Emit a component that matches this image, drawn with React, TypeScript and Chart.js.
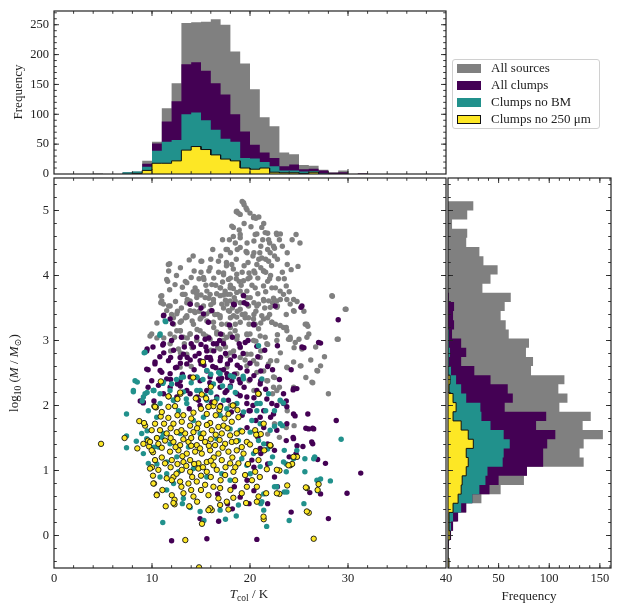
import { useEffect, useRef } from "react"
import { Chart, registerables } from "chart.js"

Chart.register(...registerables)

Chart.defaults.font.family = '"Liberation Serif", "DejaVu Serif", serif'
Chart.defaults.font.size = 12.5
Chart.defaults.color = "#222"

const GRAY = "#808080"
const PURPLE = "#440154"
const TEAL = "#21918c"
const YELLOW = "#fde725"

const legendLabels = ["All sources", "All clumps", "Clumps no BM", "Clumps no 250 μm"]

// T_col histogram (1 K bins)
const tcolEdges = [4, 5, 6, 7, 8, 9, 10, 11, 12, 13, 14, 15, 16, 17, 18, 19, 20, 21, 22, 23, 24, 25, 26, 27, 28, 29, 30, 31, 32]
const tcolAllSources = [1, 0, 0, 3, 4, 22, 54, 110, 152, 253, 254, 255, 259, 250, 205, 185, 142, 95, 80, 36, 33, 15, 14, 7, 3, 6, 0, 1]
const tcolAllClumps = [0, 0, 0, 2, 3, 17, 51, 88, 122, 184, 187, 173, 152, 133, 100, 71, 49, 36, 27, 13, 16, 8, 9, 6, 2, 3, 0, 1]
const tcolNoBM = [0, 0, 0, 3, 4, 12, 39, 54, 57, 100, 103, 90, 74, 59, 54, 27, 26, 20, 13, 6, 6, 4, 5, 1, 0, 0, 0, 0]
const tcolNo250 = [0, 0, 0, 0, 1, 6, 18, 18, 22, 40, 46, 41, 32, 25, 22, 10, 8, 10, 3, 2, 2, 1, 3, 0, 0, 0, 0, 0]

// log10 mass histogram (40 bins)
const massEdges = [
  -0.49, -0.349, -0.208, -0.068, 0.073, 0.214, 0.355, 0.496, 0.636, 0.777, 0.918, 1.059, 1.2, 1.34,
  1.481, 1.622, 1.763, 1.904, 2.044, 2.185, 2.326, 2.467, 2.608, 2.748, 2.889, 3.03, 3.171, 3.312,
  3.452, 3.593, 3.734, 3.875, 4.016, 4.156, 4.297, 4.438, 4.579, 4.72, 4.86, 5.001, 5.142,
]
const massAllSources = [0, 0, 1, 3, 5, 9, 18, 33, 52, 75, 78, 134, 130, 134, 153, 133, 141, 110, 118, 109, 115, 82, 84, 77, 80, 60, 57, 52, 56, 62, 34, 42, 49, 35, 31, 18, 19, 4, 19, 25]
const massAllClumps = [0, 0, 1, 3, 5, 10, 18, 24, 41, 50, 78, 94, 94, 98, 106, 87, 97, 56, 64, 59, 42, 26, 13, 18, 13, 4, 6, 5, 6, 1, 0, 0, 0, 0, 0, 0, 0, 0, 0, 0]
const massNoBM = [0, 0, 0, 1, 3, 5, 13, 24, 31, 37, 39, 54, 55, 61, 55, 42, 33, 32, 18, 13, 8, 3, 1, 2, 1, 1, 0, 0, 0, 0, 0, 0, 0, 0, 0, 0, 0, 0, 0, 0]
const massNo250 = [1, 0, 0, 2, 1, 1, 5, 10, 13, 14, 18, 20, 18, 25, 20, 13, 5, 8, 5, 1, 2, 0, 0, 0, 0, 0, 0, 0, 0, 0, 0, 0, 0, 0, 0, 0, 0, 0, 0, 0]

// scatter: [T_col, log10 M]
const allSources: [number, number][] = [
  [19.2, 5.14], [19.4, 5.09], [19.7, 5.01], [20.0, 4.96], [20.4, 4.91], [20.6, 4.88], [18.6, 4.98], [18.8, 4.96],
  [21.2, 4.74], [21.8, 4.65], [22.7, 4.65], [23.1, 4.64], [24.7, 4.63], [25.1, 4.5],
  [18.3, 4.74], [18.3, 4.6], [19.0, 4.58], [19.7, 4.5], [20.4, 4.53], [20.7, 4.64],
  [17.7, 4.4], [18.0, 4.35], [18.7, 4.4], [19.6, 4.37], [20.4, 4.35], [21.1, 4.45], [21.8, 4.4], [22.5, 4.42],
  [23.3, 4.45], [22.5, 4.3], [21.9, 4.22], [21.1, 4.12], [20.4, 4.07], [19.9, 4.04], [20.8, 3.96], [21.4, 4.07],
  [23.8, 4.17], [24.2, 4.09], [24.9, 4.14], [23.7, 3.84], [22.6, 3.81], [21.8, 3.91],
  [11.8, 4.18], [11.7, 4.07], [11.6, 3.91], [10.9, 3.68], [10.9, 3.58], [11.8, 3.78], [12.9, 4.12], [13.8, 4.24],
  [15.0, 4.22], [15.8, 4.07], [14.3, 4.07], [13.4, 3.91], [15.3, 3.94], [16.3, 3.96], [17.3, 4.01], [18.0, 3.96], [18.9, 3.91],
  [13.1, 3.71], [13.6, 3.63], [14.6, 3.76], [15.6, 3.76], [17.0, 3.81], [17.7, 3.71], [18.4, 3.66], [19.0, 3.76],
  [19.7, 3.66], [20.4, 3.58], [21.4, 3.61], [22.3, 3.58], [23.1, 3.63], [22.8, 3.53], [23.7, 3.4], [24.5, 3.45],
  [28.4, 3.68], [29.8, 3.48], [29.0, 3.02],
  [9.8, 3.07], [10.5, 3.27], [11.7, 3.53], [12.6, 3.45], [13.4, 3.35], [14.3, 3.45], [15.0, 3.35], [15.9, 3.45],
  [16.7, 3.4], [17.3, 3.5], [18.0, 3.35], [18.7, 3.45], [19.5, 3.35], [20.4, 3.4], [21.1, 3.27], [21.8, 3.35],
  [22.6, 3.25], [23.7, 3.2], [22.8, 3.09],
  [12.2, 3.25], [12.9, 3.15], [13.6, 3.04], [14.6, 3.17], [15.5, 3.07], [16.3, 3.2], [17.2, 3.09], [18.0, 3.2],
  [18.7, 3.07], [19.7, 3.09], [20.6, 2.99], [21.8, 2.94], [24.1, 3.02], [24.5, 2.89], [25.9, 3.22], [25.0, 3.02],
  [11.9, 2.84], [12.9, 2.81], [14.1, 2.89], [16.7, 2.89], [18.0, 2.81], [19.0, 2.89], [20.1, 2.79], [21.1, 2.84],
  [22.1, 2.69], [23.1, 2.81], [23.8, 2.58], [25.2, 2.61], [27.2, 2.61], [26.9, 2.53], [25.7, 2.43], [26.4, 2.35], [28.0, 2.18],
  [20.7, 2.64], [21.4, 2.53], [21.8, 2.38], [22.5, 2.43], [23.0, 2.28], [22.3, 2.18], [23.1, 2.07], [23.8, 1.92],
  [22.5, 1.72], [23.7, 1.66], [24.5, 1.69], [21.8, 1.56], [23.0, 1.51], [20.4, 2.23], [19.9, 2.38],
  [10.5, 3.04], [11.2, 3.04],
  [19.34, 5.12], [19.6, 5.04], [20.36, 4.89], [18.65, 4.99], [19.0, 4.94], [18.14, 4.76], [19.0, 4.63], [20.53, 4.63],
  [21.55, 4.66], [21.9, 4.55], [22.74, 4.63], [22.4, 4.45], [22.06, 4.35], [21.2, 4.27], [20.7, 4.17], [21.38, 4.07],
  [20.5, 4.04], [20.0, 3.97], [19.34, 3.92], [18.65, 4.02], [17.8, 3.94], [17.3, 4.04], [18.14, 4.17], [17.56, 4.4],
  [19.0, 4.43], [19.7, 4.35], [16.78, 4.22], [15.93, 4.12], [15.08, 4.22], [15.25, 3.97], [16.1, 3.86], [16.95, 3.81],
  [17.46, 3.76], [17.97, 3.81], [18.65, 3.74], [19.68, 3.76], [20.53, 3.81], [21.38, 3.84], [22.23, 3.81], [23.08, 3.76],
  [23.76, 3.63], [24.44, 3.46], [22.74, 3.51], [21.9, 3.61], [20.87, 3.56], [19.85, 3.53], [19.0, 3.58], [17.97, 3.61],
  [17.12, 3.56], [16.27, 3.63], [15.42, 3.66], [14.57, 3.71], [13.89, 3.61], [13.38, 3.71], [14.4, 3.81], [13.55, 3.89],
  [12.35, 3.86], [11.5, 3.94], [11.67, 4.17], [11.0, 3.61], [11.5, 3.46], [12.53, 3.41], [13.55, 3.36], [14.4, 3.43],
  [15.25, 3.38], [16.1, 3.46], [16.95, 3.38], [17.8, 3.46], [18.65, 3.36], [19.5, 3.41], [20.36, 3.33], [21.2, 3.38],
  [22.23, 3.28], [23.42, 3.2], [25.8, 3.25], [28.36, 3.69], [29.72, 3.48], [28.9, 3.02], [12.87, 3.15], [13.89, 3.1],
  [14.91, 3.15], [15.76, 3.05], [16.61, 3.13], [17.63, 3.05], [18.48, 3.15], [20.0, 3.1], [20.87, 3.18], [21.55, 3.05], [24.1, 3.05],
  [14.0, 2.6], [16.0, 2.3], [18.0, 2.0], [19.5, 2.7], [17.5, 2.9],
  [11.0, 3.69], [11.17, 3.56], [11.85, 3.53], [13.21, 3.71], [13.55, 3.58], [13.89, 3.46], [14.57, 3.66], [15.25, 3.53],
  [15.93, 3.71], [16.27, 3.58], [16.95, 3.69], [17.64, 3.56], [17.98, 3.71], [18.49, 3.61], [19.0, 3.48], [20.02, 3.66],
  [20.7, 3.53], [21.38, 3.63], [22.06, 3.51], [22.74, 3.61], [23.42, 3.71], [24.1, 3.56], [24.45, 3.63],
  [12.19, 3.35], [12.87, 3.28], [13.55, 3.38], [14.23, 3.25], [14.91, 3.33], [15.59, 3.41], [16.27, 3.28], [16.95, 3.35],
  [17.64, 3.25], [18.32, 3.38], [19.0, 3.28], [19.85, 3.35], [20.53, 3.25], [21.38, 3.33], [22.23, 3.28], [23.08, 3.23],
  [23.76, 3.15], [25.64, 3.25], [25.81, 3.05],
  [9.97, 3.1], [11.85, 3.1], [12.53, 3.15], [13.21, 3.05], [13.89, 3.1], [14.57, 3.0], [15.25, 3.1], [15.93, 3.02],
  [16.61, 3.1], [17.3, 3.0], [17.98, 3.1], [18.66, 3.02], [19.68, 3.1], [20.36, 3.0], [21.04, 3.07], [21.72, 2.95],
  [22.74, 3.0], [23.93, 3.02], [24.62, 2.97], [25.3, 2.87],
  [11.85, 2.95], [12.7, 2.87], [13.55, 2.79], [16.95, 2.87], [17.64, 2.77], [18.32, 2.84], [19.0, 2.74], [19.68, 2.79],
  [20.36, 2.69], [21.04, 2.74], [21.89, 2.64], [22.74, 2.69], [23.76, 2.59], [24.45, 2.67], [25.13, 2.61], [26.32, 2.36],
  [26.83, 2.54], [22.4, 2.44], [22.74, 2.23], [24.45, 2.28],
  [12.87, 2.59], [17.64, 2.59], [18.66, 2.49], [19.68, 2.61], [20.7, 2.51], [21.72, 2.38], [22.4, 2.28],
  [17.0, 4.3], [17.6, 4.2], [18.3, 4.1], [17.2, 3.9], [18.0, 3.85], [18.6, 3.95], [19.2, 4.05], [19.8, 4.2],
  [20.3, 4.3], [21.0, 4.35], [21.6, 4.25], [22.2, 4.15], [22.8, 4.25], [23.3, 4.05], [22.9, 3.95], [22.0, 3.95],
  [20.2, 3.85], [19.3, 3.7], [18.2, 3.5], [17.5, 3.62], [16.6, 3.72], [16.0, 3.55], [15.5, 3.85], [14.8, 3.95],
  [14.0, 3.97], [13.1, 3.82], [12.4, 3.6], [12.0, 3.4], [13.0, 3.5], [14.6, 3.55], [15.0, 4.05], [14.2, 4.3],
  [12.5, 4.0], [16.2, 4.4], [17.2, 4.55], [18.9, 4.7], [19.4, 4.8], [20.1, 4.75], [21.3, 4.55], [22.0, 4.5],
  [23.8, 4.35], [24.3, 4.55], [23.5, 3.95], [24.0, 3.75], [24.8, 3.6], [25.5, 3.45], [26.0, 3.1], [26.7, 2.9],
  [27.6, 2.75], [26.2, 2.7],
  [14.1, 3.3], [14.8, 3.45], [15.6, 3.3], [16.4, 3.4], [17.1, 3.25], [17.9, 3.45], [18.5, 3.25], [19.2, 3.4],
  [19.9, 3.25], [20.6, 3.45], [21.5, 3.5], [22.0, 3.4], [14.2, 3.75], [15.0, 3.7], [15.8, 3.65], [16.5, 3.85],
  [17.3, 3.7], [18.3, 3.8], [19.1, 3.85], [19.8, 3.95], [20.8, 3.72], [21.6, 3.75], [22.4, 3.65], [16.0, 4.25],
  [16.8, 4.05], [17.6, 4.15], [18.6, 4.25], [19.4, 4.15], [20.9, 4.25], [21.6, 4.05], [22.1, 4.0], [18.5, 4.5],
  [17.9, 4.55], [20.9, 4.9], [21.4, 4.8], [23.0, 4.55], [13.0, 3.3], [12.3, 3.05], [13.3, 2.95], [16.0, 2.85],
]

const allClumps: [number, number][] = [
  [11.2, 3.39], [12.1, 3.26], [13.9, 3.56], [15.0, 3.5], [18.4, 3.55], [19.4, 3.58], [20.4, 3.24], [17.9, 3.24],
  [20.7, 2.91], [25.2, 3.51], [29.0, 3.32], [27.2, 2.96], [25.5, 2.89], [22.8, 2.92], [21.8, 2.6], [24.2, 2.55],
  [24.4, 2.24], [23.7, 2.07], [24.6, 1.84], [25.9, 1.87], [25.7, 1.65], [26.4, 1.65], [28.8, 1.77], [24.4, 1.51],
  [23.7, 1.46], [24.8, 1.38], [25.4, 1.37], [26.4, 1.41], [24.0, 1.21], [24.7, 1.26], [27.7, 1.11], [26.9, 1.17],
  [31.3, 0.96], [29.9, 0.65], [27.2, 0.64], [26.1, 0.66], [28.0, 0.26], [24.2, 0.36], [21.8, 0.49], [19.9, 0.49],
  [18.2, 0.41], [16.8, 0.22], [14.9, 0.26], [20.7, -0.06], [15.6, -0.05], [12.0, -0.08],
  [9.5, 2.87], [9.6, 2.55], [10.3, 2.64], [10.2, 2.07], [9.1, 2.04], [11.1, 2.93], [11.2, 2.81], [11.0, 2.51],
  [11.9, 2.74], [11.5, 2.41], [12.4, 2.58], [13.1, 2.48], [12.6, 2.33], [13.6, 2.74], [14.4, 2.76], [15.0, 2.64],
  [15.6, 2.74], [16.3, 2.84], [17.0, 2.74], [16.5, 2.58], [17.7, 2.64], [18.4, 2.76], [19.0, 2.58], [19.7, 2.53],
  [20.4, 2.46], [21.1, 2.38], [21.1, 2.53], [18.4, 2.48], [17.7, 2.43], [16.8, 2.41], [15.6, 2.53], [15.0, 2.94], [15.8, 3.04],
  [19.4, 2.28], [20.4, 2.12], [21.4, 1.92], [22.1, 1.82], [19.9, 1.92], [20.6, 1.77], [21.4, 1.66], [19.7, 1.66],
  [20.8, 1.51], [21.8, 1.41], [22.5, 1.31], [21.1, 1.26], [20.4, 1.05], [21.8, 1.1], [19.7, 0.85], [20.4, 0.69],
  [19.0, 0.59], [17.7, 0.49], [16.7, 0.64], [22.8, 0.75], [22.5, 0.9], [18.4, 0.75], [8.8, 2.07], [9.6, 2.28],
  [9.12, 2.05], [13.89, 2.18], [14.74, 2.08], [16.95, 2.28], [17.46, 2.2], [17.8, 2.08], [19.0, 2.15], [19.68, 2.03],
  [20.02, 1.92], [21.04, 1.82], [22.74, 1.62], [23.76, 1.72], [24.44, 1.87], [25.98, 1.64], [26.5, 1.64], [23.42, 2.03],
  [22.4, 1.87], [24.78, 2.26], [23.42, 2.18], [26.3, 1.44], [24.44, 1.49], [20.19, 1.16], [21.04, 1.34],
  [14.0, 2.95], [16.9, 3.0], [18.9, 2.95], [13.3, 2.9], [12.0, 3.0], [17.3, 2.95], [16.0, 2.7], [18.9, 2.4],
  [11.17, 3.38], [11.85, 3.33], [13.89, 3.56], [15.25, 3.41], [15.76, 3.28], [16.1, 3.46], [18.32, 3.56], [19.34, 3.69],
  [19.68, 3.56], [20.36, 3.25], [22.57, 3.53], [25.3, 3.53], [25.3, 2.9], [27.0, 2.97], [24.45, 2.26], [23.76, 1.98],
  [22.23, 2.03], [21.04, 2.33], [19.51, 2.97], [19.0, 2.9], [14.57, 3.05], [15.42, 3.02], [16.27, 2.95], [14.23, 2.9],
  [13.21, 2.79], [11.17, 2.95], [9.46, 2.84], [10.31, 2.67], [9.46, 2.56], [9.97, 2.38], [10.83, 2.54], [11.85, 2.49],
  [12.53, 2.59], [13.55, 2.64], [14.91, 2.69], [15.93, 2.74], [16.95, 2.69], [17.64, 2.49], [18.15, 2.38], [16.95, 2.38],
  [15.93, 2.44], [14.91, 2.38], [13.89, 2.44], [12.87, 2.38], [11.85, 2.28], [11.17, 2.18], [12.53, 2.13], [13.55, 2.23],
  [14.57, 2.13], [15.59, 2.23], [16.61, 2.13], [17.64, 2.23], [18.66, 2.18], [19.68, 2.13], [20.7, 2.23], [21.72, 2.1],
  [22.74, 2.0], [12.87, 2.74], [15.59, 2.84], [16.95, 2.54], [11.68, 2.69], [10.66, 2.31],
  [14.3, 2.55], [15.3, 2.62], [16.2, 2.6], [17.3, 2.55], [18.0, 2.7], [18.7, 2.62], [19.3, 2.8], [20.0, 2.65],
  [20.8, 2.75], [17.5, 2.8], [16.6, 2.95], [15.5, 2.9], [14.8, 2.8], [13.9, 2.7], [12.9, 2.65], [12.2, 2.85],
  [13.0, 3.05], [17.0, 3.1], [18.2, 3.05], [19.8, 3.0], [15.9, 2.35], [17.1, 2.42], [18.0, 2.3], [19.0, 2.35],
  [20.0, 2.4], [20.3, 2.0], [19.2, 1.85], [18.1, 1.9], [17.0, 2.0], [16.1, 2.05], [14.9, 2.0], [13.8, 1.95],
  [12.9, 2.3], [11.9, 2.4], [10.8, 2.75], [10.1, 2.9], [21.6, 2.25], [22.3, 2.55], [21.5, 2.85], [23.0, 2.4],
]

const clumpsNoBM: [number, number][] = [
  [11.4, 3.29], [10.8, 3.08], [9.2, 2.81], [8.5, 2.36], [8.1, 2.21], [7.4, 1.87], [7.4, 1.53], [7.4, 1.35],
  [8.4, 1.45], [9.0, 2.07], [9.5, 2.2], [10.2, 2.23], [9.5, 1.61], [11.1, 2.34], [12.0, 2.33], [13.0, 2.43],
  [14.6, 2.43], [16.0, 2.48], [16.8, 2.51], [18.0, 2.46], [19.3, 2.45], [20.7, 1.92], [21.6, 1.92], [22.5, 1.92],
  [22.5, 1.68], [23.3, 1.69], [23.4, 2.04], [20.8, 1.56], [21.4, 1.41], [21.8, 1.33], [22.3, 1.21], [23.5, 1.31],
  [23.7, 1.1], [25.6, 1.18], [26.6, 1.21], [29.3, 1.48], [27.2, 0.87], [28.2, 0.84], [25.6, 0.98], [23.7, 0.98],
  [23.0, 1.0], [22.5, 0.75], [23.5, 0.67], [21.4, 0.64], [21.1, 0.49], [21.4, 0.39], [21.7, 0.14], [24.0, 0.23],
  [25.5, 0.49], [26.9, 0.69], [15.3, 0.23], [13.9, 0.43], [11.1, 0.2], [13.1, 0.49], [12.2, 0.8], [11.5, 0.95],
  [10.5, 1.1], [10.2, 1.36], [11.0, 1.51],
  [9.29, 2.18], [10.14, 2.23], [9.63, 1.92], [8.95, 1.57], [9.46, 1.49], [9.12, 1.26], [9.63, 1.11], [10.82, 2.18],
  [11.84, 2.23], [13.21, 2.21], [14.57, 2.23], [15.42, 2.15], [16.61, 2.1], [17.63, 1.95], [19.34, 1.9], [20.19, 1.77],
  [19.0, 1.62], [21.04, 1.72], [22.06, 1.62], [23.08, 1.72], [20.7, 2.03], [21.89, 2.18], [22.06, 1.11], [21.04, 1.06],
  [20.02, 0.95], [19.68, 1.08], [19.16, 1.18], [20.36, 1.26], [23.42, 1.13], [24.44, 1.18], [24.78, 1.31], [26.5, 1.18],
  [26.83, 0.85], [22.74, 0.75], [23.76, 0.67], [21.21, 0.52], [18.82, 0.47], [16.95, 0.39], [14.91, 0.37], [13.2, 0.57],
  [11.5, 0.7], [10.82, 0.9], [10.65, 1.36], [11.16, 1.57], [12.7, 1.92], [14.23, 1.77], [15.25, 1.82], [16.95, 1.85],
  [12.53, 1.21], [13.72, 1.36], [17.12, 0.95], [17.97, 0.85], [15.59, 0.9], [14.23, 1.03], [12.7, 0.98], [11.5, 1.13],
  [17.97, 1.64], [18.82, 1.46], [16.61, 1.49], [14.91, 1.57], [12.87, 1.57], [11.84, 1.41], [20.02, 1.59], [20.87, 1.46],
  [12.19, 2.08], [10.48, 1.82],
  [12.5, 2.4], [14.0, 2.35], [15.2, 2.4], [17.2, 2.3], [18.5, 2.2], [13.5, 2.1], [16.0, 2.2], [18.6, 0.3], [17.5, 0.25],
  [11.34, 3.3], [10.83, 3.1], [9.29, 2.82], [20.87, 2.92], [8.27, 2.38], [8.1, 2.23], [9.12, 2.13], [10.14, 2.23],
  [11.17, 2.36], [13.21, 2.44], [14.57, 2.44], [15.59, 2.54], [16.95, 2.49], [18.32, 2.44], [19.34, 2.41], [21.21, 2.41],
  [23.08, 2.08], [13.55, 2.03], [15.59, 2.08], [17.3, 2.08], [18.66, 2.03], [21.04, 2.03], [12.19, 2.08], [10.83, 2.03],
  [16.27, 2.33], [17.98, 2.28], [14.91, 2.23],
]

const clumpsNo250: [number, number][] = [
  [4.8, 1.41], [7.2, 1.5], [8.5, 1.34], [8.7, 1.76], [9.3, 1.69], [9.6, 1.46], [10.4, 1.97], [10.9, 2.37],
  [11.7, 2.14], [12.9, 2.18], [14.2, 2.43], [15.2, 2.67], [16.0, 2.29], [20.9, 2.18], [21.4, 1.72], [21.1, 1.56],
  [22.1, 1.38], [23.0, 1.0], [23.0, 0.64], [24.1, 1.08], [24.3, 1.1], [24.8, 1.21], [23.8, 0.77], [25.8, 0.73],
  [27.0, 0.79], [26.9, 0.7], [26.0, 0.35], [26.5, -0.05], [21.4, 0.25], [20.7, 0.52], [15.1, 0.18], [16.1, 0.39],
  [13.4, -0.07], [14.8, -0.49], [12.3, 0.48], [12.3, 0.55], [10.5, 0.63], [10.2, 0.8], [10.1, 0.92], [10.0, 1.05],
  [10.1, 1.28], [9.7, 1.37],
  [10.24, 1.99], [12.35, 1.99], [14.23, 1.89], [15.76, 1.98], [16.27, 1.99], [16.88, 1.93], [18.31, 2.0], [18.72, 1.93],
  [17.8, 1.87], [15.59, 1.87], [13.2, 1.85], [10.89, 1.83], [11.67, 1.81], [10.31, 1.72], [11.23, 1.72], [12.19, 1.72],
  [13.04, 1.75], [13.89, 1.69], [14.74, 1.72], [15.93, 1.73], [16.78, 1.67], [17.3, 1.69], [18.14, 1.75], [18.82, 1.82], [9.19, 1.73],
  [9.97, 1.62], [10.82, 1.62], [11.5, 1.57], [12.53, 1.59], [13.38, 1.57], [14.23, 1.59], [15.25, 1.57], [16.1, 1.62],
  [17.12, 1.57], [17.97, 1.54], [18.65, 1.57], [20.53, 1.62], [20.63, 1.55], [19.68, 1.44], [9.12, 1.41],
  [9.8, 1.44], [10.65, 1.41], [11.33, 1.46], [12.19, 1.44], [12.87, 1.39], [13.72, 1.44], [14.57, 1.39], [15.42, 1.44],
  [16.44, 1.39], [17.46, 1.41], [18.14, 1.44], [19.16, 1.36], [21.45, 1.31], [22.06, 1.39],
  [9.97, 1.31], [10.31, 1.16], [11.84, 1.29], [12.7, 1.31], [13.55, 1.26], [14.4, 1.29], [15.08, 1.26], [15.93, 1.31],
  [16.78, 1.26], [17.8, 1.29], [18.65, 1.31], [19.34, 1.26],
  [11.33, 1.11], [12.02, 1.16], [13.21, 1.13], [13.89, 1.16], [14.74, 1.11], [15.59, 1.13], [16.27, 1.08], [17.12, 1.16],
  [17.97, 1.11], [18.82, 1.11], [20.87, 1.16], [22.74, 1.01], [23.93, 1.08], [24.44, 1.21],
  [9.8, 1.03], [10.65, 1.01], [13.04, 1.01], [13.89, 0.98], [14.74, 1.03], [15.59, 0.98], [16.61, 1.01], [17.46, 0.93],
  [18.31, 0.98], [19.5, 0.93], [20.53, 0.98], [21.72, 1.02], [11.5, 0.88], [12.19, 0.9],
  [10.14, 0.8], [12.02, 0.85], [12.87, 0.83], [13.72, 0.8], [14.57, 0.83], [15.42, 0.78], [16.27, 0.75], [16.95, 0.73],
  [18.48, 0.85], [19.68, 0.75], [20.7, 0.75], [21.65, 0.65], [22.74, 0.65], [25.7, 0.74], [11.06, 0.7],
  [10.48, 0.62], [12.02, 0.62], [13.21, 0.65], [14.23, 0.6], [15.76, 0.62], [16.78, 0.57], [17.63, 0.52], [19.16, 0.65],
  [20.87, 0.6], [12.19, 0.5], [16.95, 0.47], [21.38, 0.29], [15.93, 0.42], [15.76, 0.39], [25.8, 0.37],
  [11.0, 1.9], [12.6, 1.85], [14.0, 1.8], [15.0, 1.95], [16.5, 1.85], [17.4, 1.8], [11.9, 1.65], [13.0, 1.62],
  [14.6, 1.65], [15.6, 1.7], [16.5, 1.55], [17.7, 1.65], [19.2, 1.6], [10.5, 1.5], [11.9, 1.5], [13.2, 1.48],
  [14.0, 1.5], [15.0, 1.5], [16.0, 1.48], [16.9, 1.47], [18.6, 1.45], [11.0, 1.35], [12.4, 1.36], [13.1, 1.22],
  [14.0, 1.38], [14.9, 1.34], [15.8, 1.38], [16.3, 1.2], [17.2, 1.35], [18.2, 1.2], [11.0, 1.2], [11.9, 1.05],
  [12.6, 1.1], [13.5, 1.07], [14.3, 1.1], [15.2, 1.05], [16.0, 1.15], [17.5, 1.05], [18.5, 1.05], [19.8, 1.1],
  [12.5, 0.95], [14.1, 0.9], [15.0, 0.92], [16.0, 0.9], [17.0, 0.85], [13.0, 0.75], [14.0, 0.7], [15.0, 0.7],
  [18.0, 0.7], [17.8, 0.4], [19.6, 0.5], [20.2, 0.85], [11.4, 0.45], [13.8, 0.45], [14.6, 0.52], [18.3, 0.58],
  [20.0, 1.4], [20.6, 1.3], [21.0, 0.9],
  [12.87, 2.2], [11.68, 2.14], [12.6, 2.1], [14.47, 2.11], [15.08, 2.17], [15.52, 2.11], [16.38, 2.05], [18.25, 2.0],
  [20.84, 2.18], [10.31, 1.98], [11.68, 1.98], [15.76, 1.98], [16.95, 1.98],
]

// tick values
const tcolTicks = [0, 10, 20, 30, 40]
const massTicks = [0, 1, 2, 3, 4, 5]
const freqTopTicks = [0, 50, 100, 150, 200, 250]
const freqRightTicks = [0, 50, 100, 150]
const freqRightLabels = [50, 100, 150]

const range = (a: number, b: number, step: number) => {
  const out: number[] = []
  for (let v = a; v <= b + 1e-9; v += step) out.push(Math.round(v * 1000) / 1000)
  return out
}

const TEXT = "#222"
const FONT = '"Liberation Serif", "DejaVu Serif", serif'

function stepOutline(edges: number[], counts: number[], horizontal: boolean) {
  const first = counts.findIndex((c) => c > 0)
  let last = counts.length - 1
  while (last > first && counts[last] === 0) last--
  const pts = [{ v: edges[first], c: 0 }]
  for (let i = first; i <= last; i++) {
    pts.push({ v: edges[i], c: counts[i] }, { v: edges[i + 1], c: counts[i] })
  }
  pts.push({ v: edges[last + 1], c: 0 })
  return pts.map((p) => (horizontal ? { x: p.c, y: p.v } : { x: p.v, y: p.c }))
}

function histSet(edges: number[], counts: number[], color: string, horizontal: boolean, order: number, outlined = false) {
  return {
    data: stepOutline(edges, counts, horizontal),
    showLine: true,
    fill: "shape",
    backgroundColor: color,
    borderColor: outlined ? "#111" : "rgba(0,0,0,0)",
    borderWidth: outlined ? 1 : 0,
    pointRadius: 0,
    order,
  }
}

function frameTicks(xMajor: number[], xMinor: number[], yMajor: number[], yMinor: number[]) {
  return {
    id: "frameTicks",
    afterDraw(chart: any) {
      const { ctx, chartArea: a } = chart
      const xs = chart.scales.x
      const ys = chart.scales.y
      ctx.save()
      ctx.strokeStyle = "#222"
      ctx.lineWidth = 0.9
      ctx.beginPath()
      const vert = (vals: number[], len: number) =>
        vals.forEach((v) => {
          const p = xs.getPixelForValue(v)
          if (p < a.left + 0.5 || p > a.right - 0.5) return
          ctx.moveTo(p, a.bottom)
          ctx.lineTo(p, a.bottom - len)
          ctx.moveTo(p, a.top)
          ctx.lineTo(p, a.top + len)
        })
      const horiz = (vals: number[], len: number) =>
        vals.forEach((v) => {
          const p = ys.getPixelForValue(v)
          if (p < a.top + 0.5 || p > a.bottom - 0.5) return
          ctx.moveTo(a.left, p)
          ctx.lineTo(a.left + len, p)
          ctx.moveTo(a.right, p)
          ctx.lineTo(a.right - len, p)
        })
      vert(xMinor, 2.8)
      vert(xMajor, 5)
      horiz(yMinor, 2.8)
      horiz(yMajor, 5)
      ctx.stroke()
      ctx.lineWidth = 1.2
      ctx.strokeRect(a.left, a.top, a.right - a.left, a.bottom - a.top)
      ctx.restore()
    },
  }
}

const tickFont = { family: FONT, size: 12.5 }

function axis(min: number, max: number, ticks: number[] | null, fit: (s: any) => void, extra: any = {}) {
  return {
    type: "linear",
    min,
    max,
    display: ticks !== null,
    grid: { display: false, drawTicks: false },
    border: { display: false },
    ticks: { font: tickFont, color: TEXT, maxRotation: 0, autoSkip: false, callback: (v: any) => String(v), ...extra },
    afterBuildTicks: (s: any) => {
      if (ticks) s.ticks = ticks.map((value) => ({ value }))
    },
    afterFit: (s: any) => {
      fit(s)
      s.paddingTop = 0
      s.paddingBottom = 0
      s.paddingLeft = 0
      s.paddingRight = 0
    },
  }
}

const baseOptions = (padding: any) => ({
  responsive: false,
  animation: false,
  events: [],
  layout: { padding },
  plugins: { legend: { display: false }, tooltip: { enabled: false } },
})

function topHistConfig(): any {
  return {
    type: "scatter",
    data: {
      datasets: [
        histSet(tcolEdges, tcolAllSources, GRAY, false, 3),
        histSet(tcolEdges, tcolAllClumps, PURPLE, false, 2),
        histSet(tcolEdges, tcolNoBM, TEAL, false, 1),
        histSet(tcolEdges, tcolNo250, YELLOW, false, 0, true),
      ],
    },
    options: {
      ...baseOptions({ left: 0, top: 11, right: 6, bottom: 7 }),
      scales: {
        x: axis(0, 40, null, () => {}),
        y: axis(0, 273, freqTopTicks, (s) => { s.width = 54 }, { padding: 5 }),
      },
    },
    plugins: [frameTicks(tcolTicks, range(0, 40, 2), freqTopTicks, range(0, 270, 10))],
  }
}

function scatterSet(points: [number, number][], color: string, order: number, edged = false) {
  return {
    data: points.map(([x, y]) => ({ x, y })),
    backgroundColor: color,
    borderColor: edged ? "#111" : color,
    borderWidth: edged ? 0.9 : 0,
    pointRadius: 2.7,
    order,
  }
}

function scatterConfig(): any {
  return {
    type: "scatter",
    data: {
      datasets: [
        scatterSet(allSources, GRAY, 3),
        scatterSet(allClumps, PURPLE, 2),
        scatterSet(clumpsNoBM, TEAL, 1),
        scatterSet(clumpsNo250, YELLOW, 0, true),
      ],
    },
    options: {
      ...baseOptions({ left: 0, top: 8, right: 6, bottom: 0 }),
      scales: {
        x: axis(0, 40, tcolTicks, (s) => { s.height = 45 }, { padding: 3 }),
        y: axis(-0.5, 5.5, massTicks, (s) => { s.width = 54 }, { padding: 5 }),
      },
    },
    plugins: [frameTicks(tcolTicks, range(0, 40, 2), massTicks, range(-0.4, 5.4, 0.2))],
  }
}

function rightHistConfig(): any {
  return {
    type: "scatter",
    data: {
      datasets: [
        histSet(massEdges, massAllSources, GRAY, true, 3),
        histSet(massEdges, massAllClumps, PURPLE, true, 2),
        histSet(massEdges, massNoBM, TEAL, true, 1),
        histSet(massEdges, massNo250, YELLOW, true, 0, true),
      ],
    },
    options: {
      ...baseOptions({ left: 8, top: 8, right: 11, bottom: 0 }),
      scales: {
        x: axis(0, 161, freqRightLabels, (s) => { s.height = 45 }, { padding: 3 }),
        y: axis(-0.5, 5.5, null, () => {}),
      },
    },
    plugins: [frameTicks(freqRightTicks, range(0, 160, 10), massTicks, range(-0.4, 5.4, 0.2))],
  }
}

function ChartCanvas({ make, left, top, width, height }: { make: () => any; left: number; top: number; width: number; height: number }) {
  const ref = useRef<HTMLCanvasElement>(null)
  useEffect(() => {
    if (!ref.current) return
    const chart = new Chart(ref.current, make())
    return () => chart.destroy()
  }, [make])
  return (
    <canvas
      ref={ref}
      width={width}
      height={height}
      style={{ position: "absolute", left, top, width, height }}
    />
  )
}

const label = (cx: number, cy: number, rotate = false): React.CSSProperties => ({
  position: "absolute",
  left: cx,
  top: cy,
  transform: `translate(-50%, -50%)${rotate ? " rotate(-90deg)" : ""}`,
  whiteSpace: "nowrap",
  fontSize: 13,
  lineHeight: 1,
})

const sub: React.CSSProperties = { fontSize: 9.5, verticalAlign: -3 }

const legendColors = [GRAY, PURPLE, TEAL, YELLOW]

export default function App() {
  return (
    <div
      style={{
        position: "absolute",
        left: 0,
        top: 0,
        width: 622,
        height: 613,
        background: "#fff",
        fontFamily: FONT,
        color: TEXT,
        overflow: "hidden",
      }}
    >
      <ChartCanvas make={topHistConfig} left={0} top={0} width={452} height={181} />
      <ChartCanvas make={scatterConfig} left={0} top={170} width={452} height={443} />
      <ChartCanvas make={rightHistConfig} left={440} top={170} width={182} height={443} />

      <div style={label(17, 92, true)}>Frequency</div>
      <div style={label(15, 373, true)}>
        log<span style={sub}>10</span> (<i>M</i> / <i>M</i>
        <span style={sub}>⊙</span>)
      </div>
      <div style={label(249, 595)}>
        <i>T</i>
        <span style={sub}>col</span> / K
      </div>
      <div style={label(529, 595)}>Frequency</div>

      <div
        style={{
          position: "absolute",
          left: 452,
          top: 59,
          width: 148,
          height: 70,
          boxSizing: "border-box",
          border: "1px solid #d0d0d0",
          borderRadius: 3,
          background: "#fff",
        }}
      >
        {legendLabels.map((text, i) => (
          <div
            key={text}
            style={{
              position: "absolute",
              left: 4,
              top: 8.3 + 17 * i - 8.5,
              height: 17,
              display: "flex",
              alignItems: "center",
              whiteSpace: "nowrap",
              fontSize: 13,
            }}
          >
            <span
              style={{
                display: "inline-block",
                width: 24,
                height: 8.5,
                boxSizing: "border-box",
                background: legendColors[i],
                border: i === 3 ? "1px solid #111" : "none",
                marginRight: 10,
              }}
            />
            {text}
          </div>
        ))}
      </div>
    </div>
  )
}
